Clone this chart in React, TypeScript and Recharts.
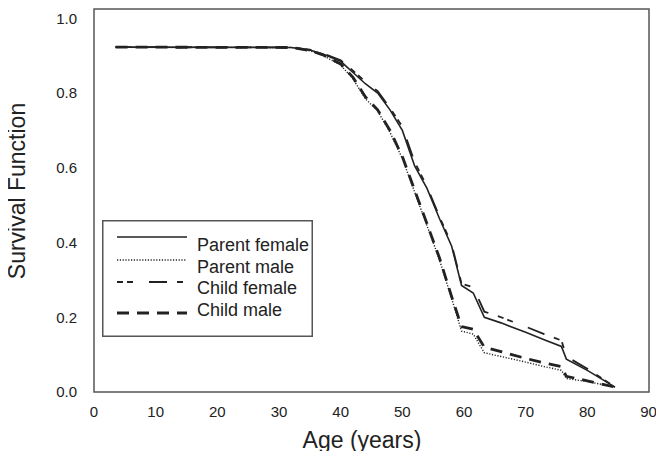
import React from 'react';
import {
  LineChart,
  Line,
  XAxis,
  YAxis,
  ReferenceArea,
  Legend,
} from 'recharts';

// Kaplan-Meier style survival curves
const AGES = [3.5, 32, 35, 37, 40, 42, 44, 46, 48, 50, 52, 54, 56, 58, 59.6, 61.5, 63.3, 66, 70, 73, 75.8, 76.6, 80, 84.5];
const PARENT_FEMALE = [0.923, 0.922, 0.915, 0.905, 0.885, 0.855, 0.825, 0.8, 0.755, 0.7, 0.605, 0.545, 0.465, 0.39, 0.285, 0.265, 0.2, 0.185, 0.16, 0.14, 0.122, 0.088, 0.058, 0.013];
const PARENT_MALE = [0.923, 0.922, 0.913, 0.902, 0.875, 0.838, 0.785, 0.752, 0.695, 0.625, 0.535, 0.445, 0.355, 0.25, 0.163, 0.155, 0.105, 0.095, 0.08, 0.068, 0.058, 0.036, 0.028, 0.013];
const CHILD_FEMALE = [0.923, 0.922, 0.916, 0.907, 0.888, 0.86, 0.83, 0.805, 0.76, 0.71, 0.615, 0.55, 0.47, 0.395, 0.29, 0.28, 0.215, 0.2, 0.175, 0.155, 0.138, 0.095, 0.062, 0.013];
const CHILD_MALE = [0.923, 0.922, 0.914, 0.903, 0.878, 0.842, 0.79, 0.755, 0.7, 0.63, 0.54, 0.45, 0.36, 0.255, 0.175, 0.168, 0.12, 0.108, 0.09, 0.078, 0.068, 0.042, 0.03, 0.013];

const X_TICKS = [0, 10, 20, 30, 40, 50, 60, 70, 80, 90];
const Y_TICKS = [0, 0.2, 0.4, 0.6, 0.8, 1.0];

const FONT = '"Liberation Sans", Arial, Helvetica, sans-serif';
const INK = '#222';

const SERIES = [
  { key: 'parentFemale', name: 'Parent female', width: 1.6, dash: undefined as string | undefined, legendY: 17, textY: 25 },
  { key: 'parentMale', name: 'Parent male', width: 1.4, dash: '1.2 1.6', legendY: 40, textY: 47 },
  { key: 'childFemale', name: 'Child female', width: 1.8, dash: '6 4 6 16 18 10', legendY: 62, textY: 68 },
  { key: 'childMale', name: 'Child male', width: 2.8, dash: '12 8', legendY: 93, textY: 90 },
];

const data = AGES.map((age, i) => ({
  age,
  parentFemale: PARENT_FEMALE[i],
  parentMale: PARENT_MALE[i],
  childFemale: CHILD_FEMALE[i],
  childMale: CHILD_MALE[i],
}));

function LegendBox() {
  return (
    <svg width={211} height={117} style={{ display: 'block' }}>
      <rect x={0.75} y={0.75} width={209.5} height={115.5} fill="#fff" stroke="#555" strokeWidth={1.5} />
      {SERIES.map((s) => (
        <g key={s.key}>
          <line
            x1={15}
            x2={85}
            y1={s.legendY}
            y2={s.legendY}
            stroke={INK}
            strokeWidth={s.width}
            strokeDasharray={s.dash}
          />
          <text x={95} y={s.textY} dy="0.35em" fontSize={18} fill={INK} fontFamily={FONT}>
            {s.name}
          </text>
        </g>
      ))}
    </svg>
  );
}

export default function App() {
  return (
    <div style={{ position: 'relative', width: 648, height: 443, fontFamily: FONT, background: '#fff' }}>
      <LineChart
        width={648}
        height={443}
        data={data}
        margin={{ top: 1, right: 7, left: 0, bottom: 0 }}
      >
        <XAxis
          dataKey="age"
          type="number"
          domain={[0, 90]}
          ticks={X_TICKS}
          height={59}
          axisLine={false}
          tickLine={false}
          tickMargin={8}
          tick={{ fill: INK, fontSize: 15, fontFamily: FONT }}
        />
        <YAxis
          type="number"
          domain={[0, 1.025]}
          ticks={Y_TICKS}
          width={86}
          axisLine={false}
          tickLine={false}
          tickMargin={11}
          tickFormatter={(v: number) => v.toFixed(1)}
          tick={{ fill: INK, fontSize: 15, fontFamily: FONT }}
        />
        <ReferenceArea
          x1={0}
          x2={90}
          y1={0}
          y2={1.025}
          fill="none"
          stroke="#555"
          strokeWidth={1.5}
          ifOverflow="extendDomain"
        />
        {SERIES.map((s) => (
          <Line
            key={s.key}
            type="linear"
            dataKey={s.key}
            name={s.name}
            stroke={INK}
            strokeWidth={s.width}
            strokeDasharray={s.dash}
            dot={false}
            activeDot={false}
            isAnimationActive={false}
          />
        ))}
        <Legend
          layout="horizontal"
          align="center"
          verticalAlign="middle"
          content={() => <LegendBox />}
          wrapperStyle={{ left: 94, top: 212, width: 211, height: 117 }}
        />
      </LineChart>
      <div
        style={{
          position: 'absolute',
          left: 9,
          top: 183,
          transform: 'translate(-50%, -50%) rotate(-90deg)',
          whiteSpace: 'nowrap',
          fontSize: 23,
          color: INK,
        }}
      >
        Survival Function
      </div>
      <div
        style={{
          position: 'absolute',
          left: 354,
          top: 432,
          transform: 'translate(-50%, -50%)',
          whiteSpace: 'nowrap',
          fontSize: 23,
          color: INK,
        }}
      >
        Age (years)
      </div>
    </div>
  );
}
